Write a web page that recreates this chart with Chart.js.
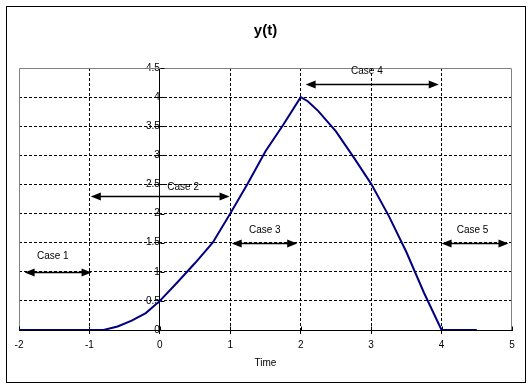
<!DOCTYPE html>
<html>
<head>
<meta charset="utf-8">
<script src="https://cdn.jsdelivr.net/npm/chart.js@4"></script>
<style>
  html, body { margin: 0; padding: 0; background: #fff; }
  canvas { display: block; }
</style>
</head>
<body>
<canvas id="chart" width="532" height="388"></canvas>
<script>
// curve y(t)
const tValues = [-2, -0.8, -0.6, -0.4, -0.2, 0, 0.25, 0.5, 0.75, 1, 1.25, 1.5, 1.75, 2, 2.1, 2.25, 2.5, 2.75, 3, 3.25, 3.5, 3.75, 4, 4.5];
const yValues = [0, 0, 0.06, 0.16, 0.29, 0.5, 0.82, 1.15, 1.5, 2.0, 2.52, 3.07, 3.52, 4.0, 3.93, 3.76, 3.41, 2.97, 2.51, 1.96, 1.34, 0.64, 0, 0];

// "Case" arrows (data coordinates)
const caseLabels = ['Case 1', 'Case 2', 'Case 3', 'Case 4', 'Case 5'];
const caseFrom = [-1.92, -0.98, 1.02, 2.07, 4.0];
const caseTo = [-0.97, 0.99, 1.95, 3.96, 4.95];
const caseY = [1.0, 2.31, 1.49, 4.23, 1.49];
const caseLabelT = [-1.52, 0.33, 1.49, 2.94, 4.44];
const caseLabelY = [1.27, 2.46, 1.72, 4.44, 1.72];

const FONT = "'Liberation Sans', Arial, sans-serif";

const points = tValues.map((t, i) => ({x: t, y: yValues[i]}));

const frame = {
  id: 'frame',
  beforeDraw(chart) {
    const ctx = chart.ctx;
    ctx.save();
    ctx.fillStyle = '#fff';
    ctx.fillRect(0, 0, chart.width, chart.height);
    ctx.strokeStyle = '#000';
    ctx.lineWidth = 1;
    ctx.strokeRect(6.5, 6.5, 519, 376);
    ctx.restore();
  },
  beforeDatasetsDraw(chart) {
    const {ctx, chartArea: a, scales: {x, y}} = chart;
    ctx.save();
    ctx.strokeStyle = '#808080';
    ctx.lineWidth = 1;
    ctx.beginPath();
    ctx.moveTo(a.left + 0.5, a.bottom);
    ctx.lineTo(a.left + 0.5, a.top + 0.5);
    ctx.lineTo(a.right - 0.5, a.top + 0.5);
    ctx.lineTo(a.right - 0.5, a.bottom);
    ctx.stroke();
    // tick marks crossing the axes
    ctx.strokeStyle = '#000';
    ctx.beginPath();
    const ax = Math.round(x.getPixelForValue(0)) + 0.5;
    y.ticks.forEach(t => {
      const py = Math.round(y.getPixelForValue(t.value)) + 0.5;
      ctx.moveTo(ax, py);
      ctx.lineTo(ax + 4, py);
    });
    const ay = Math.round(y.getPixelForValue(0)) + 0.5;
    x.ticks.forEach(t => {
      const px = Math.round(x.getPixelForValue(t.value)) + 0.5;
      ctx.moveTo(px, ay);
      ctx.lineTo(px, ay - 4);
    });
    ctx.stroke();
    ctx.restore();
  }
};

function arrowHead(ctx, tipX, y, dir) {
  ctx.beginPath();
  ctx.moveTo(tipX, y);
  ctx.lineTo(tipX + dir * 10, y - 4);
  ctx.lineTo(tipX + dir * 10, y + 4);
  ctx.closePath();
  ctx.fill();
}

const cases = {
  id: 'cases',
  afterDatasetsDraw(chart) {
    const {ctx, scales: {x, y}} = chart;
    ctx.save();
    ctx.strokeStyle = '#000';
    ctx.fillStyle = '#000';
    ctx.lineWidth = 1.5;
    caseLabels.forEach((label, i) => {
      const x1 = x.getPixelForValue(caseFrom[i]);
      const x2 = x.getPixelForValue(caseTo[i]);
      const yy = Math.round(y.getPixelForValue(caseY[i])) + 0.5;
      ctx.beginPath();
      ctx.moveTo(x1 + 4, yy);
      ctx.lineTo(x2 - 4, yy);
      ctx.stroke();
      arrowHead(ctx, x1, yy, 1);
      arrowHead(ctx, x2, yy, -1);
      ctx.font = '10px ' + FONT;
      ctx.textAlign = 'center';
      ctx.textBaseline = 'middle';
      ctx.fillText(label, x.getPixelForValue(caseLabelT[i]), y.getPixelForValue(caseLabelY[i]));
    });
    ctx.restore();
  }
};

new Chart(document.getElementById('chart'), {
  type: 'scatter',
  data: {
    datasets: [{
      data: points,
      showLine: true,
      borderColor: '#000080',
      borderWidth: 2,
      pointRadius: 0,
      tension: 0
    }]
  },
  options: {
    responsive: false,
    animation: false,
    layout: {padding: {left: 19, right: 20, top: 0, bottom: 0}},
    plugins: {
      legend: {display: false},
      tooltip: {enabled: false},
      title: {
        display: true,
        text: 'y(t)',
        color: '#000',
        font: {family: FONT, size: 15, weight: 'bold'},
        padding: {top: 22, bottom: 28}
      }
    },
    scales: {
      x: {
        type: 'linear',
        position: 'bottom',
        min: -2,
        max: 5,
        afterFit: s => { s.height = 58; },
        ticks: {stepSize: 1, color: '#000', font: {family: FONT, size: 10}, padding: 5, maxRotation: 0},
        grid: {
          color: c => (c.tick && (c.tick.value === -2 || c.tick.value === 5)) ? 'rgba(0,0,0,0)' : '#000',
          lineWidth: 1,
          tickLength: 4
        },
        border: {display: true, color: '#000', width: 1, dash: [3, 2]},
        title: {display: true, text: 'Time', color: '#000', font: {family: FONT, size: 10}, padding: {top: 4, bottom: 19}}
      },
      y: {
        type: 'linear',
        position: {x: 0},
        min: 0,
        max: 4.5,
        ticks: {
          stepSize: 0.5,
          color: '#000',
          font: {family: FONT, size: 10},
          padding: 5,
          callback: v => String(+v.toFixed(1))
        },
        grid: {
          color: c => (c.tick && (c.tick.value === 0 || c.tick.value === 4.5)) ? 'rgba(0,0,0,0)' : '#000',
          lineWidth: 1,
          tickLength: 4
        },
        border: {display: true, color: '#000', width: 1, dash: [3, 2]}
      }
    }
  },
  plugins: [frame, cases]
});
</script>
</body>
</html>
